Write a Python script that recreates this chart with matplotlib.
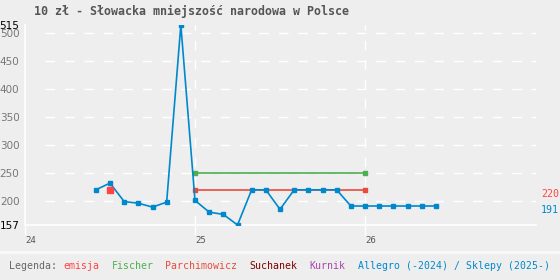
import matplotlib
matplotlib.use("Agg")
import matplotlib.pyplot as plt
from matplotlib.patches import Rectangle
import matplotlib.transforms as mtransforms

# ---- data ----
allegro_x = [24 + k / 12 for k in range(5, 12)] + [25 + k / 12 for k in range(12)] + [26 + k / 12 for k in range(6)]
allegro_y = [220, 232, 199, 196, 189, 198, 515,
             201, 180, 176, 157, 220, 220, 185, 220, 220, 220, 220, 191,
             191, 191, 191, 191, 191, 191]
fischer_x = [25.0, 26.0]
fischer_y = [250, 250]
parch_x = [25.0, 26.0]
parch_y = [220, 220]
emisja_x = [24.5]
emisja_y = [220]

yticks = [157, 200, 250, 300, 350, 400, 450, 500, 515]
xticks = [24, 25, 26]
xticklabels = ["24", "25", "26"]
title = "10 zł - Słowacka mniejszość narodowa w Polsce"
legend_items = [("Legenda:", "#666666"), ("emisja", "#ff4444"), ("Fischer", "#4caf50"),
                ("Parchimowicz", "#e84c3d"), ("Suchanek", "#800000"), ("Kurnik", "#aa44aa"),
                ("Allegro (-2024) / Sklepy (2025-)", "#0088cc")]

BLUE = "#0088cc"
GREEN = "#4caf50"
RED = "#e84c3d"
EMISJA = "#ff4444"
BG = "#eeeeee"

W, H = 560, 280
fig = plt.figure(figsize=(W / 100, H / 100), dpi=100, facecolor=BG)
ax = fig.add_axes([25 / W, 1 - 225 / H, (536 - 25) / W, 200 / H])
ax.set_facecolor(BG)

xmax = 24 + (536 - 25) / 170
ax.set_xlim(24, xmax)
ax.set_ylim(157, 515)

# grid
ax.hlines(yticks[1:-1], 24 + 20 / 170, xmax, color="white", lw=1, linestyles=[(0, (7, 7))], zorder=1)
for xv in [25, 26]:
    ax.axvline(xv, color="white", lw=1, dashes=(7, 7), zorder=1)

for s in ["top", "right"]:
    ax.spines[s].set_visible(False)
for s in ["left", "bottom"]:
    ax.spines[s].set_color("white")
    ax.spines[s].set_linewidth(1.2)

ax.set_yticks(yticks)
ax.set_yticklabels([str(v) for v in yticks], fontsize=7.5, family="DejaVu Sans")
for lbl, v in zip(ax.get_yticklabels(), yticks):
    lbl.set_color("black" if v in (157, 515) else "#777777")
ax.tick_params(axis="y", length=0, pad=4)

ax.set_xticks(xticks)
ax.set_xticklabels(xticklabels, fontsize=6.5, family="DejaVu Sans Mono", color="#555555", ha="left")
ax.tick_params(axis="x", length=7.5, color="white", width=1, pad=0.5)

# series
ax.plot(fischer_x, fischer_y, color=GREEN, lw=1.2, marker="s", ms=3, zorder=3)
ax.plot(parch_x, parch_y, color=RED, lw=1.2, marker="s", ms=3, zorder=3)
ax.plot(allegro_x, allegro_y, color=BLUE, lw=1.2, marker="s", ms=3, zorder=4)
ax.plot(emisja_x, emisja_y, color=EMISJA, lw=0, marker="s", ms=4.5, zorder=5)

# right labels
trans = mtransforms.blended_transform_factory(ax.transAxes, ax.transData)
ax.annotate(str(parch_y[-1]), xy=(1.0, parch_y[-1]), xycoords=trans, xytext=(3.5, -3),
            textcoords="offset points", color=EMISJA, fontsize=7.2, family="DejaVu Sans Mono",
            va="center", ha="left", annotation_clip=False)
ax.annotate(str(allegro_y[-1]), xy=(1.0, allegro_y[-1]), xycoords=trans, xytext=(3.5, -3),
            textcoords="offset points", color=BLUE, fontsize=7.2, family="DejaVu Sans Mono",
            va="center", ha="left", annotation_clip=False)

# title
fig.text(34 / W, 1 - 11 / H, title, fontsize=8.4, family="DejaVu Sans Mono", weight="bold",
         color="#555555", va="center", ha="left")

# legend strip
fig.patches.append(Rectangle((0, 0), 1, 1 - 251 / H, transform=fig.transFigure, facecolor="#f8f8f8",
                             edgecolor="none", zorder=0))
fig.patches.append(Rectangle((0, 0), 1, 1 - 254 / H, transform=fig.transFigure, facecolor=BG,
                             edgecolor="none", zorder=0))

x = 9.5
cw = 6.0
for i, (txt, col) in enumerate(legend_items):
    fig.text(x / W, 1 - 266 / H, txt, fontsize=7.1, family="DejaVu Sans Mono", color=col,
             va="center", ha="left")
    x += (len(txt) + (1 if i == 0 else 2)) * cw

fig.savefig("out.png", dpi=100, facecolor=BG)
